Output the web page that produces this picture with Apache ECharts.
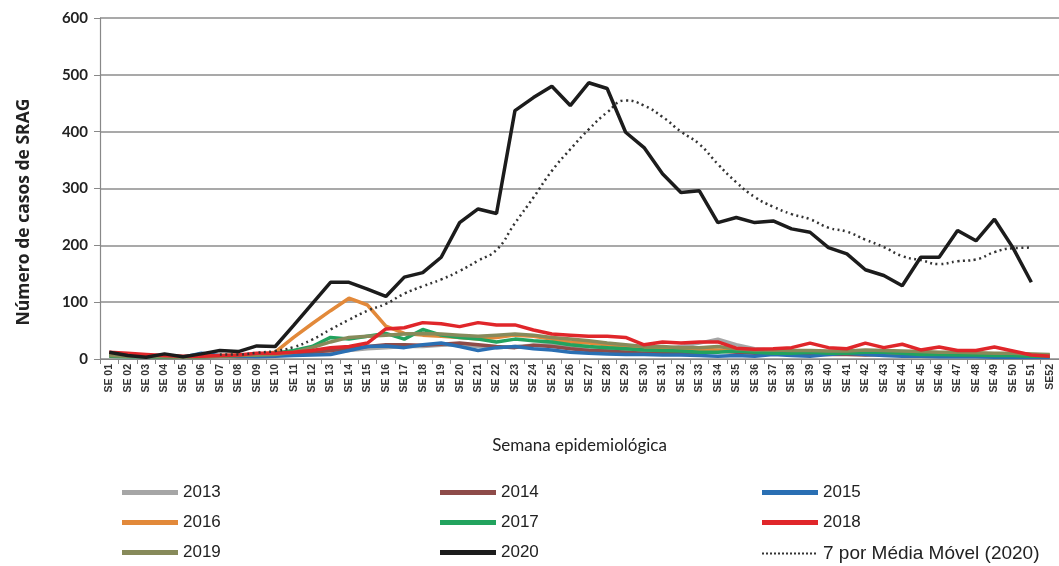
<!DOCTYPE html>
<html>
<head>
<meta charset="utf-8">
<script src="https://cdn.jsdelivr.net/npm/echarts@6/dist/echarts.min.js"></script>
<style>
html,body{margin:0;padding:0;background:#fff;}
#chart{width:1059px;height:566px;}
</style>
</head>
<body>
<div id="chart"></div>
<script>
// Categories
const weeks = ["SE 01","SE 02","SE 03","SE 04","SE 05","SE 06","SE 07","SE 08","SE 09","SE 10",
"SE 11","SE 12","SE 13","SE 14","SE 15","SE 16","SE 17","SE 18","SE 19","SE 20",
"SE 21","SE 22","SE 23","SE 24","SE 25","SE 26","SE 27","SE 28","SE 29","SE 30",
"SE 31","SE 32","SE 33","SE 34","SE 35","SE 36","SE 37","SE 38","SE 39","SE 40",
"SE 41","SE 42","SE 43","SE 44","SE 45","SE 46","SE 47","SE 48","SE 49","SE 50",
"SE 51","SE52"];

const y2013 = [10,8,5,4,3,3,4,5,6,7, 8,10,12,15,18,20,22,22,24,25, 22,20,22,24,25,22,20,18,16,15, 18,22,28,35,25,18,15,14,12,12, 12,10,10,9,9,8,8,7,7,6,6,5];
const y2014 = [8,6,5,4,3,4,5,4,5,6, 8,12,15,18,22,25,25,24,26,28, 25,22,20,24,22,18,15,14,12,10, 10,12,12,14,12,10,10,9,9,8, 8,7,8,7,6,6,6,5,5,5,4,4];
const y2015 = [6,5,4,3,3,10,6,5,4,5, 6,7,8,15,22,23,20,25,28,22, 15,20,22,18,16,12,10,9,8,8, 7,7,6,5,6,5,8,6,5,8, 10,8,6,5,5,4,4,4,3,3,3,3];
const y2016 = [10,8,6,5,4,5,6,7,8,12, 38,62,85,107,95,58,45,42,40,38, 35,38,42,40,35,30,28,25,22,20, 18,18,17,16,15,14,14,13,13,12, 12,12,12,11,11,10,10,10,9,9,8,7];
const y2017 = [5,4,4,3,3,4,5,6,7,10, 15,22,38,35,40,45,35,52,42,38, 35,30,35,32,30,25,22,20,18,16, 15,14,12,12,14,12,10,10,12,10, 10,12,12,10,8,8,7,7,6,6,5,5];
const y2018 = [12,10,8,6,5,5,6,7,10,10, 12,15,20,22,28,53,55,64,62,57, 64,60,60,51,44,42,40,40,38,25, 30,28,30,30,19,17,18,20,28,20, 18,28,20,26,16,21,15,15,21,14,7,5];
const y2019 = [6,5,4,4,3,4,5,6,7,8, 12,20,30,38,40,42,44,45,44,42, 40,42,44,42,38,35,32,28,25,22, 22,20,20,22,18,16,16,15,15,14, 14,16,15,14,13,12,12,11,10,10,9,8];
const y2020 = [12,6,3,9,4,9,15,13,23,22, 59,97,135,135,123,110,144,152,179,240, 264,256,437,460,480,446,486,476,399,372, 326,293,296,240,249,240,243,229,223,196, 185,157,147,129,179,179,226,208,246,196, 135,null];
const ma2020 = [null,null,null,null,null,null,8,8,11,14, 21,34,52,69,85,97,115,128,140,155, 173,192,239,284,331,369,404,434,455,446, 426,400,378,343,311,285,268,255,246,231, 224,210,197,181,174,167,172,175,188,195, 196,null];

const yTicks = [0,100,200,300,400,500,600];

const seriesDefs = [
  {name:'2013', data:y2013, color:'#a6a6a6'},
  {name:'2014', data:y2014, color:'#8e4b49'},
  {name:'2015', data:y2015, color:'#2a6fb3'},
  {name:'2016', data:y2016, color:'#e2893a'},
  {name:'2017', data:y2017, color:'#22a35e'},
  {name:'2019', data:y2019, color:'#878a5a'},
  {name:'2018', data:y2018, color:'#e0262a'},
  {name:'2020', data:y2020, color:'#1c1c1c'}
];

const series = seriesDefs.map(s => ({
  name: s.name, type:'line', data:s.data, symbol:'none', showSymbol:false,
  lineStyle:{color:s.color, width:3.5},
  itemStyle:{color:s.color},
  z: s.name==='2020'?5:2, animation:false
}));
series.push({
  name:'7 por Média Móvel (2020)', type:'line', data:ma2020, symbol:'none', showSymbol:false,
  smooth:true,
  lineStyle:{color:'#333', width:2.5, type:[2,3.5]},
  itemStyle:{color:'#333'}, z:4, animation:false
});

// dotted legend glyph (a row of small squares)
let dots = 'path://M0,0 M56,5';
for (let x = 0; x < 56; x += 4) dots += ' M' + x + ',1.5h2v2h-2z';

const legText = {fontFamily:"'Liberation Sans Narrow','Liberation Sans',sans-serif", fontSize:17, color:'#222'};
function leg(left, names){
  return {
    orient:'vertical', left:left, top:484, padding:0, itemWidth:56, itemHeight:5, itemGap:13,
    textStyle:legText, selectedMode:false,
    data:names.map(n => n.startsWith('7')
      ? {name:n, icon:dots, textStyle:{fontSize:19}}
      : {name:n, icon:'rect'})
  };
}

const chart = echarts.init(document.getElementById('chart'), null, {renderer:'canvas'});
chart.setOption({
  animation:false,
  backgroundColor:'#fff',
  grid:{left:100, right:0, top:18, bottom:207, containLabel:false},
  legend:[
    leg(122, ['2013','2016','2019']),
    leg(440, ['2014','2017','2020']),
    leg(762, ['2015','2018','7 por Média Móvel (2020)'])
  ],
  graphic:[{
    type:'text', x:24, y:212, rotation:Math.PI/2,
    style:{text:'Número de casos de SRAG', fontFamily:"'Open Sans'", fontSize:17.5, fontWeight:'bold',
      fill:'#222', align:'center', verticalAlign:'middle'}
  }],
  xAxis:{
    type:'category', data:weeks, boundaryGap:true,
    name:'Semana epidemiológica', nameLocation:'middle', nameGap:78,
    nameTextStyle:{fontFamily:'Lato', fontSize:17, color:'#222'},
    axisLine:{lineStyle:{color:'#888', width:1.2}},
    axisTick:{show:true, length:5, lineStyle:{color:'#888'}},
    axisLabel:{interval:0, rotate:90, fontSize:10.5, fontWeight:'bold', color:'#333', margin:5,
      fontFamily:"'Liberation Sans',sans-serif"}
  },
  yAxis:{
    type:'value', min:0, max:600, interval:100,
    axisLine:{show:true, lineStyle:{color:'#888', width:1.2}},
    axisTick:{show:true, length:6, lineStyle:{color:'#888'}},
    axisLabel:{fontFamily:'Lato', fontSize:15, fontWeight:'bold', color:'#222', margin:12,
      formatter: v => yTicks.includes(v) ? String(v) : ''},
    splitLine:{show:true, lineStyle:{color:'#8c8c8c', width:1.5}}
  },
  series:series
});
</script>
</body>
</html>
